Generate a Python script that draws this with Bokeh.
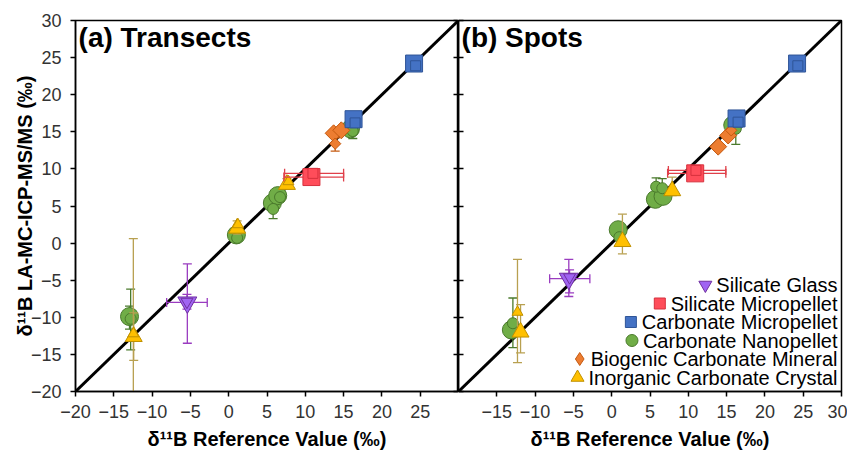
import math
from bokeh.plotting import figure
from bokeh.layouts import row
from bokeh.models import Range1d, FixedTicker, Label, LinearAxis, ColumnDataSource
from bokeh.core.properties import value
from bokeh.embed import file_html
from bokeh.resources import INLINE

nan = float("nan")

categories = ["Silicate Glass", "Silicate Micropellet", "Carbonate Micropellet",
              "Carbonate Nanopellet", "Biogenic Carbonate Mineral", "Inorganic Carbonate Crystal"]
ticks = [-20, -15, -10, -5, 0, 5, 10, 15, 20, 25, 30]
one_to_one = [-20, 30]

# (a) Transects  -- spot: L = large symbol, S = small symbol; nan = no error bar
a_glass = dict(x=[-5.4, -5.45], y=[-8.0, -7.9], spot=["L", "S"],
               ylo=[-13.5, -8.9], yhi=[-2.8, -6.9], xlo=[-8.1, nan], xhi=[-2.8, nan])
a_silmp = dict(x=[10.8, 11.0], y=[8.9, 9.4], spot=["L", "S"],
               ylo=[nan, nan], yhi=[nan, nan], xlo=[7.2, 7.3], xhi=[15.0, 15.0])
a_carbmp = dict(x=[24.2, 24.4, 16.3, 16.5], y=[24.2, 23.9, 16.7, 16.2], spot=["L", "S", "L", "S"],
                ylo=[nan] * 4, yhi=[nan] * 4, xlo=[nan] * 4, xhi=[nan] * 4)
a_nano = dict(x=[15.9, 16.2, 5.7, 6.4, 5.8, 6.7, 1.0, 1.1, -12.95, -12.8],
              y=[15.4, 15.1, 5.4, 6.4, 4.6, 6.2, 1.1, 0.7, -9.9, -10.2],
              spot=["L", "S", "L", "L", "S", "S", "L", "S", "L", "S"],
              ylo=[nan, 14.1, nan, nan, 3.3, nan, nan, nan, -11.6, -14.4],
              yhi=[nan, 16.0, nan, nan, 5.8, nan, nan, nan, -8.5, -6.2],
              xlo=[nan] * 10, xhi=[nan] * 10)
a_bio = dict(x=[13.7, 14.7, 13.9], y=[14.8, 15.2, 13.4], spot=["L", "L", "S"],
             ylo=[nan, nan, 12.4], yhi=[nan, nan, 14.2], xlo=[nan] * 3, xhi=[nan] * 3)
a_inorg = dict(x=[7.6, 7.8, 1.1, 1.2, -12.4, -12.45], y=[7.9, 8.3, 2.0, 2.5, -12.6, -12.2],
               spot=["L", "S", "L", "S", "L", "S"],
               ylo=[7.3, nan, 1.2, nan, -15.8, -26.0], yhi=[8.7, nan, 3.0, nan, -9.4, 0.6],
               xlo=[nan] * 6, xhi=[nan] * 6)

# (b) Spots
b_glass = dict(x=[-5.6, -5.5], y=[-4.8, -4.6], spot=["L", "S"],
               ylo=[-7.2, -6.7], yhi=[-2.2, -3.6], xlo=[-8.1, nan], xhi=[-2.85, nan])
b_silmp = dict(x=[10.9, 11.0], y=[9.4, 9.8], spot=["L", "S"],
               ylo=[nan, nan], yhi=[nan, nan], xlo=[7.3, 7.4], xhi=[14.9, 14.9])
b_carbmp = dict(x=[24.2, 24.3, 16.3, 16.5], y=[24.2, 23.9, 16.8, 16.3], spot=["L", "S", "L", "S"],
                ylo=[nan] * 4, yhi=[nan] * 4, xlo=[nan] * 4, xhi=[nan] * 4)
b_nano = dict(x=[15.8, 16.2, 5.7, 6.7, 5.8, 6.6, 0.85, 1.0, -13.1, -12.9],
              y=[15.9, 15.4, 5.9, 6.3, 7.6, 7.4, 1.8, 0.8, -11.7, -10.8],
              spot=["L", "S", "L", "L", "S", "S", "L", "S", "L", "S"],
              ylo=[nan, 13.3, nan, nan, 6.5, 6.2, nan, nan, nan, -14.1],
              yhi=[nan, 16.3, nan, nan, 8.8, 8.7, nan, nan, nan, -7.4],
              xlo=[nan] * 10, xhi=[nan] * 10)
b_bio = dict(x=[15.2, 13.9, 15.6], y=[14.5, 13.0, 15.2], spot=["L", "L", "S"],
             ylo=[nan] * 3, yhi=[nan] * 3, xlo=[nan] * 3, xhi=[nan] * 3)
b_inorg = dict(x=[7.9, 1.4, -12.3, -11.9], y=[7.05, 0.2, -9.3, -12.0], spot=["L", "L", "S", "L"],
               ylo=[6.4, -1.45, -16.1, -14.8], yhi=[8.9, 3.9, -2.2, -8.3],
               xlo=[nan] * 4, xhi=[nan] * 4)

panel_a = [a_glass, a_silmp, a_carbmp, a_nano, a_bio, a_inorg]
panel_b = [b_glass, b_silmp, b_carbmp, b_nano, b_bio, b_inorg]

# styles
markers = ["inverted_triangle", "square", "square", "circle", "square", "triangle"]
legend_markers = ["inverted_triangle", "square", "square", "circle", "diamond", "triangle"]
legend_sizes = [13, 11, 11, 12, 13, 13]
angles = [0, 0, 0, 0, math.pi / 4, 0]
fills = ["#a064f2", "#ff4d5a", "#4472c4", "#70ad47", "#ed7d31", "#ffc000"]
edges = ["#7030a0", "#d6303c", "#2f5597", "#4a7a2c", "#c55a11", "#bf9000"]
err_colors = ["#9a3cc0", "#e0404a", "#2f5597", "#4a7a2c", "#c55a11", "#b8a050"]
big = [19, 17, 17, 18, 12, 17]
small = [12, 10, 10, 11, 8, 11]
draw_order = [0, 3, 4, 5, 1, 2]
FONT = "Liberation Sans"
FW, FH = 383, 371

# Arial/Liberation Sans advance widths (1/1000 em), for right-aligned legend keys
CHAR_W = {"S": 667, "i": 222, "l": 222, "c": 500, "a": 556, "t": 278, "e": 556, " ": 278,
          "G": 778, "M": 833, "r": 333, "o": 556, "p": 556, "C": 722, "b": 556, "n": 556,
          "N": 722, "B": 667, "g": 556, "I": 278, "y": 500, "s": 500}


def text_width(s, size):
    return sum(CHAR_W.get(c, 556) for c in s) / 1000.0 * size


def inner_axis(ax):
    ax.ticker = FixedTicker(ticks=ticks)
    ax.major_tick_in = 5
    ax.major_tick_out = 0
    ax.major_tick_line_width = 1.5
    ax.minor_tick_line_color = None
    ax.axis_line_width = 1.5
    ax.major_label_text_color = None
    ax.major_label_text_font_size = "1px"
    ax.major_label_standoff = 0


def make_panel(groups, title, left):
    p = figure(frame_width=FW, frame_height=FH,
               x_range=Range1d(-20, 30), y_range=Range1d(-20, 30),
               output_backend="svg", toolbar_location=None,
               min_border_top=20, min_border_bottom=55,
               min_border_left=75 if left else 0, min_border_right=0 if left else 6)
    p.grid.visible = False
    p.outline_line_color = "black"
    p.outline_line_width = 1.5
    p.background_fill_color = "white"

    for ax in (p.xaxis[0], p.yaxis[0]):
        ax.minor_tick_line_color = None
        ax.axis_line_color = "black"
        ax.axis_line_width = 1.5
        ax.major_tick_line_width = 1.5
        ax.major_tick_in = 0
        ax.major_tick_out = 5
        ax.major_label_text_font = FONT
        ax.major_label_text_font_size = "18px"
        ax.major_label_text_color = "#333333"
        ax.axis_label_text_font = FONT
        ax.axis_label_text_font_size = "20px"
        ax.axis_label_text_font_style = "bold"
        ax.axis_label_text_color = "black"
    p.xaxis.axis_label = "δ¹¹B Reference Value (‰)"
    p.xaxis.major_label_standoff = 8
    p.xaxis.axis_label_standoff = 7

    if left:
        p.xaxis.ticker = FixedTicker(ticks=ticks[:-1])
        p.yaxis.ticker = FixedTicker(ticks=ticks)
        p.yaxis.axis_label = "δ¹¹B LA-MC-ICP-MS/MS (‰)"
        p.yaxis.major_label_standoff = 9
        p.yaxis.axis_label_standoff = -8
        right_ax = LinearAxis()
        inner_axis(right_ax)
        p.add_layout(right_ax, "right")
    else:
        p.xaxis.ticker = FixedTicker(ticks=ticks[1:])
        inner_axis(p.yaxis[0])

    p.line(one_to_one, one_to_one, line_color="black", line_width=3)

    for i in draw_order:
        g = groups[i]
        ec = err_colors[i]
        # vertical error bars
        vx, vlo, vhi = [], [], []
        for x, lo, hi in zip(g["x"], g["ylo"], g["yhi"]):
            if lo == lo:
                vx.append(x); vlo.append(lo); vhi.append(hi)
        if vx:
            p.segment(x0=vx, y0=vlo, x1=vx, y1=vhi, line_color=ec, line_width=1.3)
            p.scatter(vx + vx, vlo + vhi, marker="dash", size=9, line_color=ec, line_width=1.3)
        # horizontal error bars
        hy, hlo, hhi = [], [], []
        for y, lo, hi in zip(g["y"], g["xlo"], g["xhi"]):
            if lo == lo:
                hy.append(y); hlo.append(lo); hhi.append(hi)
        if hy:
            p.segment(x0=hlo, y0=hy, x1=hhi, y1=hy, line_color=ec, line_width=1.3)
            p.scatter(hlo + hhi, hy + hy, marker="dash", angle=math.pi / 2, size=9,
                      line_color=ec, line_width=1.3)
        for spot, sz in (("L", big[i]), ("S", small[i])):
            xs = [x for x, s in zip(g["x"], g["spot"]) if s == spot]
            ys = [y for y, s in zip(g["y"], g["spot"]) if s == spot]
            if xs:
                p.scatter(xs, ys, marker=markers[i], size=sz, angle=angles[i],
                          fill_color=fills[i], line_color=edges[i], line_width=1)

    p.add_layout(Label(x=-19.6, y=29.75, text=title, text_font=FONT, text_font_size="28px",
                       text_font_style="bold", text_baseline="top", text_color="black"))
    return p


p1 = make_panel(panel_a, "(a) Transects", True)
p2 = make_panel(panel_b, "(b) Spots", False)

# legend drawn in frame pixel space, labels right-aligned with the key just left of each
p2.extra_x_ranges["px"] = Range1d(0, FW)
p2.extra_y_ranges["px"] = Range1d(0, FH)
LEG_SIZE = 20
n = len(categories)
leg_right = FW - 4
leg_y = [14 + 18.5 * (n - 1 - k) for k in range(n)]
leg_key_x = [leg_right - text_width(c, LEG_SIZE) - 11 for c in categories]
leg_src = ColumnDataSource(dict(x=leg_key_x, y=leg_y, marker=legend_markers, size=legend_sizes,
                                fill=fills, edge=edges))
p2.scatter("x", "y", source=leg_src, marker="marker", size="size", fill_color="fill",
           line_color="edge", line_width=1, x_range_name="px", y_range_name="px")
p2.text(x=[leg_right] * n, y=leg_y, text=categories, x_range_name="px", y_range_name="px",
        text_font=value(FONT), text_font_size=f"{LEG_SIZE}px", text_align="right",
        text_baseline="middle", text_color="black")

layout = row(p1, p2)
open("out.html", "w").write(file_html(layout, INLINE))
